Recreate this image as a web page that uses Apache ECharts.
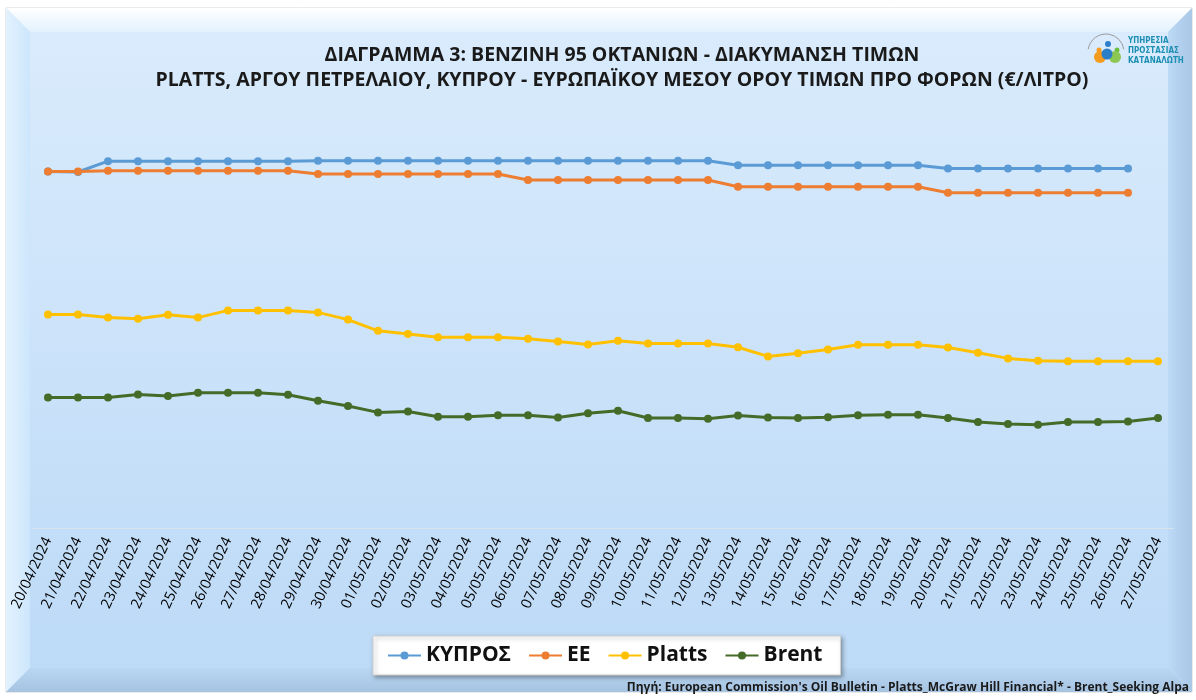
<!DOCTYPE html>
<html>
<head>
<meta charset="utf-8">
<script src="https://cdn.jsdelivr.net/npm/echarts@6/dist/echarts.min.js"></script>
<style>
  html, body { margin: 0; padding: 0; background: #ffffff; }
  #chart { width: 1196px; height: 700px; }
</style>
</head>
<body>
<div id="chart"></div>
<script>
// ημερομηνίες
const dates = [
  '20/04/2024', '21/04/2024', '22/04/2024', '23/04/2024', '24/04/2024', '25/04/2024',
  '26/04/2024', '27/04/2024', '28/04/2024', '29/04/2024', '30/04/2024', '01/05/2024',
  '02/05/2024', '03/05/2024', '04/05/2024', '05/05/2024', '06/05/2024', '07/05/2024',
  '08/05/2024', '09/05/2024', '10/05/2024', '11/05/2024', '12/05/2024', '13/05/2024',
  '14/05/2024', '15/05/2024', '16/05/2024', '17/05/2024', '18/05/2024', '19/05/2024',
  '20/05/2024', '21/05/2024', '22/05/2024', '23/05/2024', '24/05/2024', '25/05/2024',
  '26/05/2024', '27/05/2024'
];

// τιμές €/λίτρο (εκτίμηση από το διάγραμμα)
const cyprus = [
  0.891, 0.890, 0.917, 0.917, 0.917, 0.917, 0.917, 0.917, 0.917, 0.918,
  0.918, 0.918, 0.918, 0.918, 0.918, 0.918, 0.918, 0.918, 0.918, 0.918,
  0.918, 0.918, 0.918, 0.907, 0.907, 0.907, 0.907, 0.907, 0.907, 0.907,
  0.899, 0.899, 0.899, 0.899, 0.899, 0.899, 0.899
];
const eu = [
  0.891, 0.891, 0.893, 0.893, 0.893, 0.893, 0.893, 0.893, 0.893, 0.885,
  0.885, 0.885, 0.885, 0.885, 0.885, 0.885, 0.870, 0.870, 0.870, 0.870,
  0.870, 0.870, 0.870, 0.853, 0.853, 0.853, 0.853, 0.853, 0.853, 0.853,
  0.838, 0.838, 0.838, 0.838, 0.838, 0.838, 0.838
];
const platts = [
  0.534, 0.534, 0.526, 0.523, 0.533, 0.526, 0.544, 0.544, 0.544, 0.539,
  0.521, 0.493, 0.485, 0.477, 0.477, 0.477, 0.473, 0.466, 0.459, 0.468,
  0.461, 0.461, 0.461, 0.452, 0.429, 0.437, 0.446, 0.458, 0.458, 0.458,
  0.451, 0.438, 0.424, 0.418, 0.417, 0.417, 0.417, 0.417
];
const brent = [
  0.326, 0.326, 0.326, 0.334, 0.330, 0.338, 0.338, 0.338, 0.333, 0.318,
  0.305, 0.289, 0.291, 0.278, 0.278, 0.282, 0.282, 0.276, 0.287, 0.293,
  0.275, 0.275, 0.273, 0.281, 0.276, 0.275, 0.277, 0.282, 0.283, 0.283,
  0.275, 0.265, 0.260, 0.258, 0.265, 0.265, 0.266, 0.275
];

const FONT = '"Open Sans", "Noto Sans", sans-serif';

const chart = echarts.init(document.getElementById('chart'));

function lineSeries(name, data, color) {
  return {
    name: name,
    type: 'line',
    data: data,
    symbol: 'circle',
    symbolSize: 8,
    lineStyle: { color: color, width: 3 },
    itemStyle: { color: color },
    z: 5
  };
}

// πλαίσιο με ανάγλυφο
const frame = [
  { type: 'rect', shape: { x: 6, y: 8, width: 1186, height: 684 },
    style: { fill: '#cfe3f6', stroke: '#d6d6d6', lineWidth: 1 } },
  { type: 'rect', shape: { x: 30, y: 32, width: 1138, height: 636 },
    style: { fill: new echarts.graphic.LinearGradient(0, 0, 0, 1, [
      { offset: 0, color: '#d9ebfc' }, { offset: 1, color: '#bddaf7' }]) } },
  { type: 'polygon', shape: { points: [[6, 8], [1192, 8], [1168, 32], [30, 32]] },
    style: { fill: new echarts.graphic.LinearGradient(0, 0, 0, 1, [
      { offset: 0, color: '#ffffff' }, { offset: 1, color: '#e3f1fd' }]) } },
  { type: 'polygon', shape: { points: [[6, 8], [30, 32], [30, 668], [6, 692]] },
    style: { fill: new echarts.graphic.LinearGradient(0, 0, 1, 0, [
      { offset: 0, color: '#e2f2fe' }, { offset: 1, color: '#cde6fc' }]) } },
  { type: 'polygon', shape: { points: [[1192, 8], [1192, 692], [1168, 668], [1168, 32]] },
    style: { fill: new echarts.graphic.LinearGradient(0, 0, 1, 0, [
      { offset: 0, color: '#bcd9f5' }, { offset: 1, color: '#a9c8e6' }]) } },
  { type: 'polygon', shape: { points: [[6, 692], [30, 668], [1168, 668], [1192, 692]] },
    style: { fill: new echarts.graphic.LinearGradient(0, 0, 0, 1, [
      { offset: 0, color: '#b9d6f2' }, { offset: 1, color: '#a6c4e2' }]) } }
];

// λογότυπο
const logo = [
  { type: 'arc', shape: { cx: 1106, cy: 52, r: 18, startAngle: Math.PI * 1.05, endAngle: Math.PI * 1.95 },
    style: { stroke: '#9a9a9a', lineWidth: 1, fill: null } },
  { type: 'circle', shape: { cx: 1108, cy: 44, r: 3 }, style: { fill: '#2a7fc8' } },
  { type: 'circle', shape: { cx: 1099, cy: 50, r: 2.5 }, style: { fill: '#f39c1f' } },
  { type: 'circle', shape: { cx: 1117, cy: 50, r: 2.5 }, style: { fill: '#6cbf3c' } },
  { type: 'circle', shape: { cx: 1100, cy: 57, r: 6 }, style: { fill: '#f39c1f' } },
  { type: 'circle', shape: { cx: 1115, cy: 57, r: 6 }, style: { fill: '#8cc653' } },
  { type: 'circle', shape: { cx: 1107, cy: 54, r: 5.5 }, style: { fill: '#2a7fc8' } },
  { type: 'text', x: 1128, y: 36, style: {
      text: 'ΥΠΗΡΕΣΙΑ\nΠΡΟΣΤΑΣΙΑΣ\nΚΑΤΑΝΑΛΩΤΗ', fill: '#1d8fb3',
      font: 'bold 8px "DejaVu Sans Condensed", "DejaVu Sans", sans-serif', lineHeight: 10 } }
];

const sourceText = {
  type: 'text', right: 7, top: 682, style: {
    text: "Πηγή: European Commission's Oil Bulletin - Platts_McGraw Hill Financial* - Brent_Seeking Alpa",
    fill: '#1a1a1a', font: 'bold 12px ' + FONT }
};

const option = {
  animation: false,
  backgroundColor: '#ffffff',
  textStyle: { fontFamily: FONT },
  graphic: frame.concat(logo, [sourceText]).map(function (el) {
    el.silent = true;
    el.z = 0;
    return el;
  }),
  title: {
    text: 'ΔΙΑΓΡΑΜΜΑ 3: ΒΕΝΖΙΝΗ 95 ΟΚΤΑΝΙΩΝ - ΔΙΑΚΥΜΑΝΣΗ ΤΙΜΩΝ\nPLATTS, ΑΡΓΟΥ ΠΕΤΡΕΛΑΙΟΥ, ΚΥΠΡΟΥ - ΕΥΡΩΠΑΪΚΟΥ ΜΕΣΟΥ ΟΡΟΥ ΤΙΜΩΝ ΠΡΟ ΦΟΡΩΝ (€/ΛΙΤΡΟ)',
    left: 617,
    textAlign: 'center',
    top: 38,
    textStyle: { fontSize: 19.5, fontWeight: 'bold', color: '#1a1a1a', lineHeight: 25, fontFamily: FONT }
  },
  legend: {
    left: 373,
    top: 636,
    height: 40,
    padding: [9, 18, 9, 14],
    backgroundColor: '#ffffff',
    borderColor: '#d0d0d0',
    borderWidth: 1,
    shadowColor: 'rgba(0,0,0,0.35)',
    shadowBlur: 4,
    shadowOffsetX: 2,
    shadowOffsetY: 2,
    itemWidth: 33,
    itemHeight: 10,
    itemGap: 17,
    textStyle: { fontSize: 21, fontWeight: 'bold', color: '#111111' },
    data: ['ΚΥΠΡΟΣ', 'ΕΕ', 'Platts', 'Brent']
  },
  grid: { left: 33, right: 23, top: 128, bottom: 172 },
  xAxis: {
    type: 'category',
    data: dates,
    boundaryGap: true,
    axisLine: { lineStyle: { color: '#d9e3ec', width: 1 } },
    axisTick: { show: false },
    axisLabel: { rotate: 65, interval: 0, fontSize: 14.5, color: '#000000', margin: 10, fontFamily: FONT }
  },
  yAxis: {
    type: 'value',
    min: 0,
    max: 1,
    show: false,
    splitLine: { show: false }
  },
  series: [
    lineSeries('ΚΥΠΡΟΣ', cyprus, '#5b9bd5'),
    lineSeries('ΕΕ', eu, '#ed7d31'),
    lineSeries('Platts', platts, '#ffc000'),
    lineSeries('Brent', brent, '#456b29')
  ]
};

chart.setOption(option);
</script>
</body>
</html>
